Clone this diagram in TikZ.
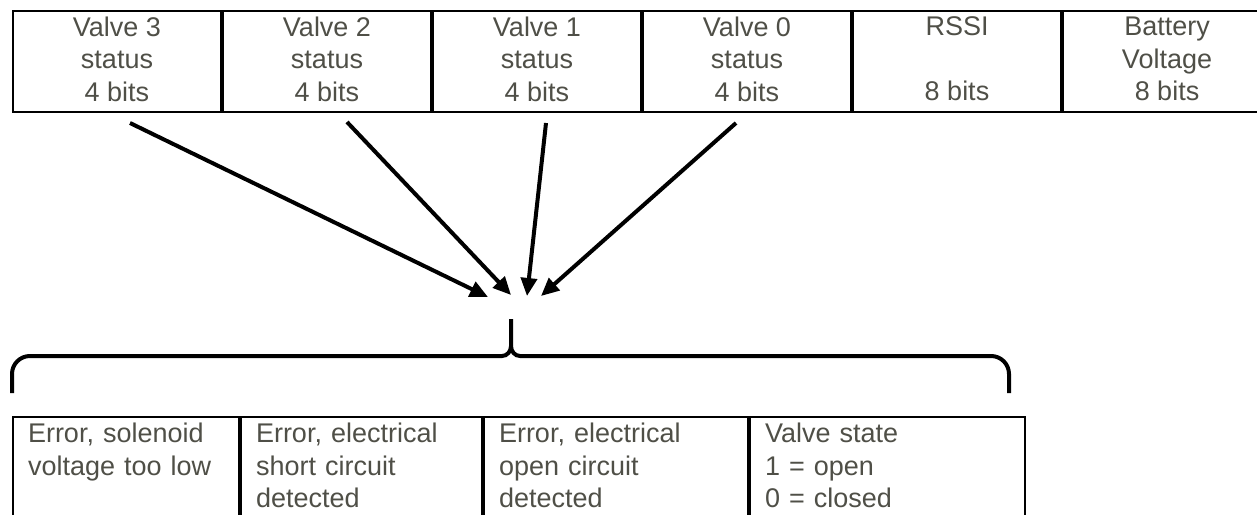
\documentclass[tikz,border=0pt]{standalone}
\usepackage{fontspec}
\setmainfont{Liberation Sans}
\usetikzlibrary{arrows.meta,positioning,calc}
\definecolor{cText}{HTML}{4F4F47}
\newcommand{\tstrut}{\rule[-2.5pt]{0pt}{11.5pt}}
\newcommand{\bstrut}{\rule[-3.5pt]{0pt}{10pt}}
\tikzset{
  field/.style={draw, line width=1pt, minimum width=104pt, minimum height=50.5pt,
    inner sep=0pt, align=center, text=cText, font=\fontsize{13.5}{16.25}\selectfont},
  flag/.style={draw, line width=1pt, minimum height=52pt, inner xsep=7.5pt,
    inner ysep=0pt, align=left, text=cText, font=\fontsize{13.5}{16.25}\selectfont},
  feed/.style={-{Triangle[length=9pt,width=8pt]}, line width=2pt},
  brace/.style={line width=2pt},
}

\begin{document}
\begin{tikzpicture}[x=0.5pt, y=-0.5pt]
    \useasboundingbox (0,0) rectangle (1257,514);
    \clip (0,0) rectangle (1257,514);
    % message fields
    \node[field, anchor=north west] (v3) at (12,10) {\tstrut Valve 3\\status\\4 bits\tstrut};
    \node[field, right=0pt of v3] (v2) {\tstrut Valve 2\\status\\4 bits\tstrut};
    \node[field, right=0pt of v2] (v1) {\tstrut Valve 1\\status\\4 bits\tstrut};
    \node[field, right=0pt of v1] (v0) {\tstrut Valve 0\\status\\4 bits\tstrut};
    \node[field, right=0pt of v0] (rssi) {\tstrut RSSI\\~\\8 bits\tstrut};
    \node[field, right=0pt of rssi] (batt) {\tstrut Battery\\Voltage\\8 bits\tstrut};
    % status bits
    \node[flag, text width=98pt, anchor=north west] (low) at (12,416)
      {\bstrut Error, solenoid\\voltage too low\\~\bstrut};
    \node[flag, text width=105.5pt, right=0pt of low] (short)
      {\bstrut Error, electrical\\short circuit\\detected\bstrut};
    \node[flag, text width=117pt, right=0pt of short] (open)
      {\bstrut Error, electrical\\open circuit\\detected\bstrut};
    \node[flag, text width=122.5pt, right=0pt of open] (state)
      {\bstrut Valve state\\1 = open\\0 = closed\bstrut};
    % brace over the status bits
    \coordinate (tip) at (511,319);
    \draw[brace] (12,393) -- (12,374) to[out=90,in=180] (30,356) -- (502,356)
      to[out=0,in=-90] (tip |- 0,346) -- (tip);
    \draw[brace] (tip |- 0,346) to[out=-90,in=180] (520,356) -- (991,356)
      to[out=0,in=90] (1009,374) -- (1009,393);
    % every valve status maps to the same layout
    \draw[feed] ([xshift=6.5pt,yshift=-5pt]v3.south) -- ($(tip)+(-23,-22)$);
    \draw[feed] ([xshift=10pt,yshift=-4.5pt]v2.south) -- ($(tip)+(0,-24)$);
    \draw[feed] ([xshift=4.5pt,yshift=-5pt]v1.south) -- ($(tip)+(16,-23)$);
    \draw[feed] ([xshift=-5.5pt,yshift=-5pt]v0.south) -- ($(tip)+(30,-23)$);
  \end{tikzpicture}
\end{document}
